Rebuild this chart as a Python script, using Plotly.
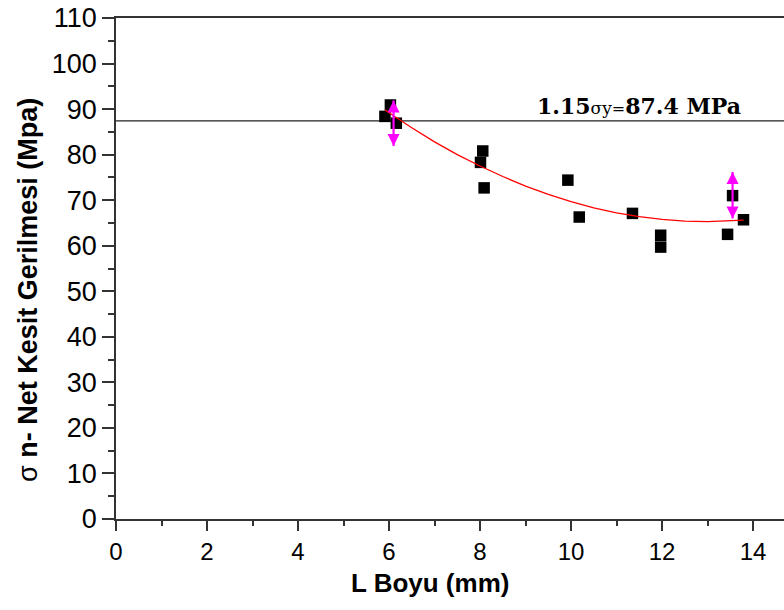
import plotly.graph_objects as go

# Measured net-section stress against ligament length L
boy_mm = [6.03, 5.91, 6.16, 8.06, 8.01, 8.09, 9.93, 10.18, 11.35, 11.97, 11.97, 13.44, 13.55, 13.79]
gerilme_mpa = [90.9, 88.4, 86.9, 80.8, 78.3, 72.7, 74.4, 66.3, 67.1, 62.3, 59.7, 62.5, 71.0, 65.7]

# Scatter band (mean +/- spread) shown at two lengths
band_x = [6.1, 13.55]
band_y = [86.9, 71.1]
band_err = [5.0, 5.1]

# Trend curve drawn through the data
trend_x = [5.91, 6.5, 7.0, 7.5, 8.0, 8.5, 9.0, 9.5, 10.0, 10.5, 11.0, 11.5, 12.0, 12.5, 13.0, 13.5, 13.79]
trend_y = [89.8, 85.9, 82.8, 80.0, 77.5, 75.2, 73.1, 71.3, 69.7, 68.3, 67.2, 66.4, 65.8, 65.4, 65.3, 65.4, 65.6]

# Reference level 1.15 * yield stress
ref_level = 87.4

x_range = [0, 14.68]
y_range = [0, 110]

axis_col = "#333333"
magenta = "#ff00ff"
sans = "Liberation Sans, Arial, sans-serif"
serif = "DejaVu Serif, Liberation Serif, serif"

fig = go.Figure()

fig.add_shape(
    type="line", xref="paper", x0=0, x1=1, yref="y", y0=ref_level, y1=ref_level,
    line=dict(color="#222222", width=1.3), layer="below",
)

fig.add_trace(go.Scatter(
    x=boy_mm, y=gerilme_mpa, mode="markers",
    marker=dict(symbol="square", size=11.5, color="black", line=dict(width=0)),
))

fig.add_trace(go.Scatter(
    x=trend_x, y=trend_y, mode="lines",
    line=dict(color="#ff0000", width=1.3),
    hoverinfo="skip",
))

# Magenta spread bars with arrow tips at both ends
fig.add_trace(go.Scatter(
    x=band_x, y=band_y, mode="markers",
    marker=dict(size=1, opacity=0),
    error_y=dict(type="data", array=band_err, symmetric=True,
                 color=magenta, thickness=2.2, width=0),
    hoverinfo="skip",
))
fig.add_trace(go.Scatter(
    x=band_x, y=[b + e for b, e in zip(band_y, band_err)], mode="markers",
    marker=dict(symbol="arrow-up", size=12, color=magenta, line=dict(width=0)),
    hoverinfo="skip",
))
fig.add_trace(go.Scatter(
    x=band_x, y=[b - e for b, e in zip(band_y, band_err)], mode="markers",
    marker=dict(symbol="arrow-down", size=12, color=magenta, line=dict(width=0)),
    hoverinfo="skip",
))

fig.add_annotation(
    x=9.21, y=ref_level, xref="x", yref="y",
    xanchor="left", yanchor="bottom", yshift=0,
    text=("<b>1.15</b><span style='font-size:17px'>σy</span>"
          "<span style='font-size:16px'>=</span><b>87.4 MPa</b>"),
    showarrow=False,
    font=dict(family=serif, size=22, color="black"),
)

# Axis titles
fig.add_annotation(
    x=(430 - 116) / 668, y=(519 - 583) / 501, xref="paper", yref="paper",
    xanchor="center", yanchor="middle",
    text="<b>L Boyu (mm)</b>", showarrow=False,
    font=dict(family=sans, size=26, color="black"),
)
fig.add_annotation(
    x=(28 - 116) / 668, y=(519 - 290) / 501, xref="paper", yref="paper",
    xanchor="center", yanchor="middle",
    text="σ <b>n- Net Kesit Gerilmesi (Mpa)</b>", textangle=-90, showarrow=False,
    font=dict(family=sans, size=27, color="black"),
)

fig.update_layout(
    width=784, height=610,
    margin=dict(l=116, r=0, t=18, b=91),
    plot_bgcolor="white", paper_bgcolor="white",
    showlegend=False,
    xaxis=dict(
        range=x_range, tickmode="linear", tick0=0, dtick=2,
        ticks="outside", ticklen=10, tickwidth=1.5, tickcolor=axis_col,
        minor=dict(dtick=1, ticks="outside", ticklen=5, tickwidth=1.5, tickcolor=axis_col),
        showline=True, linecolor=axis_col, linewidth=1.5, mirror=True,
        showgrid=False, zeroline=False,
        tickfont=dict(family=sans, size=24, color="black"),
    ),
    yaxis=dict(
        range=y_range, tickmode="linear", tick0=0, dtick=10,
        ticks="outside", ticklen=12, tickwidth=1.5, tickcolor=axis_col,
        minor=dict(dtick=5, ticks="outside", ticklen=6, tickwidth=1.5, tickcolor=axis_col),
        showline=True, linecolor=axis_col, linewidth=1.5, mirror=False,
        showgrid=False, zeroline=False,
        tickfont=dict(family=sans, size=27, color="black"),
    ),
)

fig.write_html("out.html")
